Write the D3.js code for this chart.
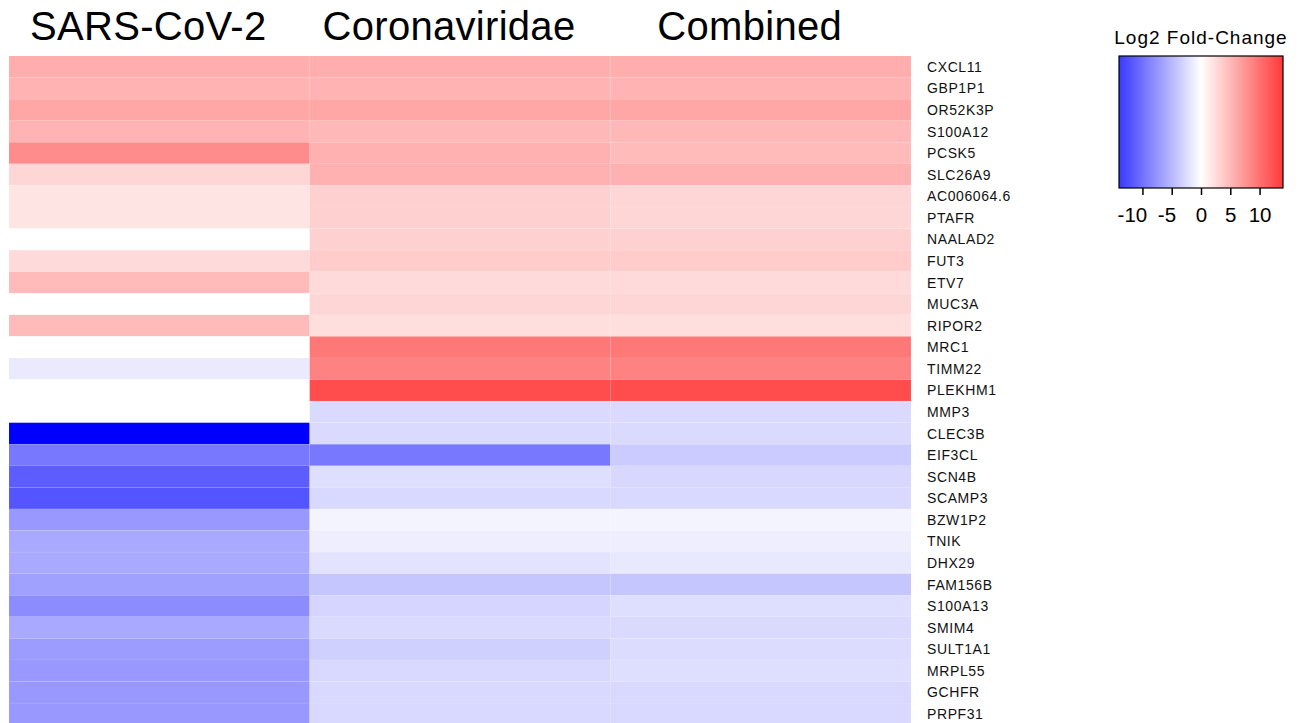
<!DOCTYPE html>
<html>
<head>
<meta charset="utf-8">
<script src="https://cdn.jsdelivr.net/npm/d3@7"></script>
<style>
  html, body { margin: 0; padding: 0; background: #fff; }
  svg { display: block; font-family: "Liberation Sans", Arial, Helvetica, sans-serif; }
</style>
</head>
<body>
<svg id="chart" width="1300" height="723"></svg>
<script>
// Log2 fold-change heatmap – SARS-CoV-2 vs Coronaviridae vs Combined

const studies = ["SARS-CoV-2", "Coronaviridae", "Combined"];

const genes = [
  "CXCL11", "GBP1P1", "OR52K3P", "S100A12", "PCSK5", "SLC26A9", "AC006064.6", "PTAFR",
  "NAALAD2", "FUT3", "ETV7", "MUC3A", "RIPOR2", "MRC1", "TIMM22", "PLEKHM1",
  "MMP3", "CLEC3B", "EIF3CL", "SCN4B", "SCAMP3", "BZW1P2", "TNIK", "DHX29",
  "FAM156B", "S100A13", "SMIM4", "SULT1A1", "MRPL55", "GCHFR", "PRPF31"
];

// log2 fold-change per gene, one array per study (same order as genes)
const sarsCov2 = [
  5.8, 5.4, 6.3, 5.4, 8.1, 2.9, 1.9, 1.9,
  0, 2.6, 4.9, 0, 4.9, 0, -1.5, 0,
  0, -18, -9.5, -11.5, -12.0, -7.3, -6.1, -6.1,
  -6.7, -8.1, -6.1, -7.0, -7.3, -7.3, -7.3
];

const coronaviridae = [
  5.8, 5.4, 6.3, 5.0, 5.6, 5.6, 3.3, 3.3,
  3.3, 3.7, 2.6, 2.9, 2.3, 9.5, 8.8, 12.6,
  -2.6, -2.6, -9.5, -2.3, -2.7, -0.8, -1.2, -2.0,
  -4.0, -3.0, -2.6, -3.3, -2.7, -2.7, -2.7
];

const combined = [
  5.8, 5.4, 6.3, 5.0, 4.9, 5.6, 2.9, 2.9,
  3.3, 3.7, 2.6, 2.9, 2.3, 9.5, 8.8, 12.6,
  -2.6, -2.6, -3.7, -2.75, -2.7, -0.8, -1.2, -1.6,
  -4.0, -2.3, -2.6, -2.5, -2.3, -2.7, -2.7
];

const legendTicks = [-10, -5, 0, 5, 10];
const legendDomain = [-14, 14];
const colorLimit = 18;

// ---------------------------
// Setup
// ---------------------------

const seriesByStudy = {
  "SARS-CoV-2": sarsCov2,
  "Coronaviridae": coronaviridae,
  "Combined": combined
};

const cells = [];
studies.forEach(s => {
  seriesByStudy[s].forEach((v, i) => {
    cells.push({ study: s, gene: genes[i], value: v });
  });
});

const svg = d3.select("#chart");

const rowH = 21.57;
const x = d3.scaleBand()
  .domain(studies)
  .range([9, 911]);

const y = d3.scaleBand()
  .domain(genes)
  .range([56, 56 + rowH * genes.length]);

const color = d3.scaleLinear()
  .domain([-colorLimit, 0, colorLimit])
  .range(["#0000ff", "#ffffff", "#ff0000"])
  .clamp(true);

// ---------------------------
// Heatmap cells
// ---------------------------

svg.append("g")
  .selectAll("rect")
  .data(cells)
  .join("rect")
  .attr("x", d => x(d.study))
  .attr("y", d => y(d.gene))
  .attr("width", x.bandwidth())
  .attr("height", y.bandwidth())
  .attr("fill", d => color(d.value))
  .attr("stroke", "#ffffff")
  .attr("stroke-opacity", 0.08)
  .attr("stroke-width", 0.8);

// column titles
svg.append("g")
  .selectAll("text")
  .data(studies)
  .join("text")
  .attr("x", d => x(d) + x.bandwidth() / 2 - 11)
  .attr("y", 40)
  .attr("text-anchor", "middle")
  .attr("font-size", 40)
  .attr("letter-spacing", 0.3)
  .attr("fill", "#000")
  .text(d => d);

// gene labels
svg.append("g")
  .selectAll("text")
  .data(genes)
  .join("text")
  .attr("x", 927)
  .attr("y", d => y(d) + y.bandwidth() / 2)
  .attr("dy", "0.36em")
  .attr("font-size", 14)
  .attr("letter-spacing", 0.6)
  .attr("fill", "#111")
  .text(d => d);

// ---------------------------
// Colour legend
// ---------------------------

const lx = d3.scaleLinear()
  .domain(legendDomain)
  .range([1119, 1283]);

const legTop = 56, legBottom = 188;

const grad = svg.append("defs")
  .append("linearGradient")
  .attr("id", "lfc-grad")
  .attr("x1", "0%").attr("x2", "100%")
  .attr("y1", "0%").attr("y2", "0%");

const stopVals = d3.range(legendDomain[0], legendDomain[1] + 0.01, 1);
grad.selectAll("stop")
  .data(stopVals)
  .join("stop")
  .attr("offset", d => (lx(d) - lx.range()[0]) / (lx.range()[1] - lx.range()[0]))
  .attr("stop-color", d => color(d));

svg.append("rect")
  .attr("x", lx.range()[0])
  .attr("y", legTop)
  .attr("width", lx.range()[1] - lx.range()[0])
  .attr("height", legBottom - legTop)
  .attr("fill", "url(#lfc-grad)")
  .attr("stroke", "#000")
  .attr("stroke-width", 1.2);

const legAxis = svg.append("g")
  .attr("transform", `translate(0,${legBottom})`)
  .call(d3.axisBottom(lx)
    .tickValues(legendTicks)
    .tickSize(7)
    .tickPadding(12)
    .tickFormat(d3.format("d")));

legAxis.select(".domain").remove();
legAxis.selectAll(".tick line")
  .attr("stroke", "#000")
  .attr("stroke-width", 1.5);
legAxis.selectAll(".tick text")
  .attr("font-family", "\"Liberation Sans\", Arial, sans-serif")
  .attr("font-size", 20.5)
  .attr("fill", "#000")
  .attr("dx", d => d < 0 ? d * 1.05 : 0)
  .text(d => String(d).replace("\u2212", "-"));

svg.append("text")
  .attr("x", 1201)
  .attr("y", 44)
  .attr("text-anchor", "middle")
  .attr("font-size", 19)
  .attr("letter-spacing", 1)
  .attr("fill", "#000")
  .text("Log2 Fold-Change");
</script>
</body>
</html>
